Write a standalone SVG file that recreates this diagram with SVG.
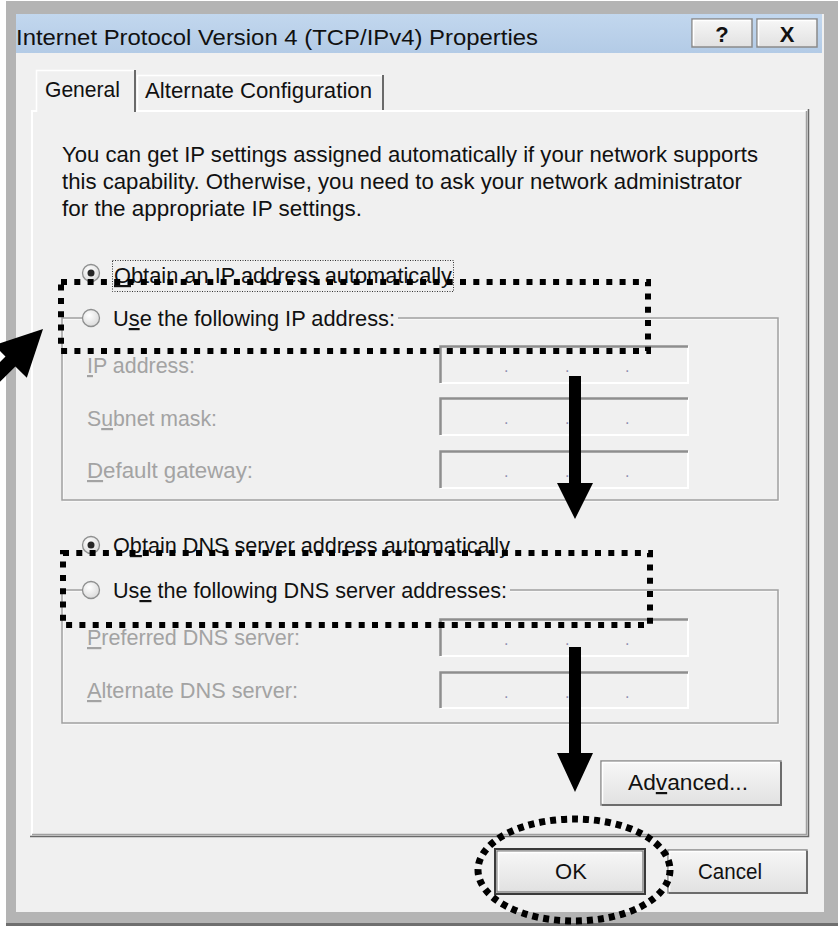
<svg xmlns="http://www.w3.org/2000/svg" width="838" height="927" viewBox="0 0 838 927">
<defs>
  <linearGradient id="tb" x1="0" y1="0" x2="0" y2="1"><stop offset="0" stop-color="#c2d7ee"/><stop offset="1" stop-color="#b3cbe6"/></linearGradient>
  <linearGradient id="btn" x1="0" y1="0" x2="0" y2="1"><stop offset="0" stop-color="#f7f7f7"/><stop offset="1" stop-color="#e1e1e1"/></linearGradient>
  <radialGradient id="rad" cx="0.4" cy="0.35" r="0.75"><stop offset="0" stop-color="#ffffff"/><stop offset="1" stop-color="#d6d6d6"/></radialGradient>
</defs>
<style>
  .t{font-family:"Liberation Sans",Arial,sans-serif;font-size:22px;fill:#111}
  .g{fill:#a3a3a3}
  .u{text-decoration:underline}
  .gb{fill:none;stroke:#a0a0a0;stroke-width:1.5}
  .gbw{fill:none;stroke:#ffffff;stroke-width:1}
  .fld{fill:#f0f0f0}
  .fdk{fill:none;stroke:#8e8e8e;stroke-width:2.5}
  .flt{fill:none;stroke:#ffffff;stroke-width:2}
  .ipdot{font-family:"Liberation Sans",Arial,sans-serif;font-size:16px;fill:#8f8fb0}
  .radio{fill:url(#rad);stroke:#8e8f8f;stroke-width:1.3}
  .rdot{fill:#262626}
  .btn{fill:url(#btn);stroke:#8a8a8a;stroke-width:1.5}
  .hl{fill:none;stroke:#ffffff;stroke-width:1.5}
  .sh{fill:none;stroke:#6c6c6c;stroke-width:2}
  .dots{fill:none;stroke:#000;stroke-width:6;stroke-dasharray:6 7.3}
  .focus{fill:none;stroke:#333;stroke-width:1;stroke-dasharray:1 1.5}
  .arr{fill:#000}
</style>

<g id="window">
  <rect x="6" y="1" width="832" height="925" fill="#b4b4b4"/>
  <rect x="6" y="923" width="832" height="3" fill="#6f6f6f"/>
  <rect x="16" y="14" width="808" height="898" fill="#f0f0f0"/>
</g>

<g id="titlebar">
  <rect x="16" y="14" width="806" height="39" fill="url(#tb)"/>
  <text class="t" x="16" y="45" font-size="24" textLength="522" lengthAdjust="spacingAndGlyphs">Internet Protocol Version 4 (TCP/IPv4) Properties</text>
  <g id="help-button">
    <rect class="btn" x="692" y="19" width="60" height="28"/>
    <path class="hl" d="M693.5,45.5 V20.5 H750.5"/>
    <text class="t" x="722" y="42" font-size="21" font-weight="bold" text-anchor="middle">?</text>
  </g>
  <g id="close-button">
    <rect class="btn" x="757" y="19" width="60" height="28"/>
    <path class="hl" d="M758.5,45.5 V20.5 H815.5"/>
    <text class="t" x="787" y="42" font-size="21" font-weight="bold" text-anchor="middle">X</text>
  </g>
</g>

<g id="panel">
  <rect x="31" y="110" width="777" height="726" fill="#f0f0f0"/>
  <path d="M32,835 V111 H807" fill="none" stroke="#ffffff" stroke-width="2"/>
  <path d="M806.5,111 V834.5 H32" fill="none" stroke="#a0a0a0" stroke-width="1.5"/>
  <path d="M808.5,109 V836.5 H30" fill="none" stroke="#6a6a6a" stroke-width="1.5"/>
</g>

<g id="tab-alternate">
  <path d="M137,110 V76 H383 V110 Z" fill="#f0f0f0"/>
  <path d="M137.5,110 V75.5 H382" fill="none" stroke="#ffffff" stroke-width="1.5"/>
  <path d="M383,75 V110" fill="none" stroke="#6a6a6a" stroke-width="2"/>
  <text class="t" x="145" y="98" textLength="227" lengthAdjust="spacingAndGlyphs">Alternate Configuration</text>
</g>
<g id="tab-general">
  <path d="M36,113 V70 H135 V113 Z" fill="#f0f0f0"/>
  <path d="M36.5,112 V70.5 H134" fill="none" stroke="#ffffff" stroke-width="1.5"/>
  <path d="M135,70 V112" fill="none" stroke="#6a6a6a" stroke-width="2"/>
  <text class="t" x="45" y="97" textLength="75" lengthAdjust="spacingAndGlyphs">General</text>
</g>

<g id="intro-text">
  <text class="t" x="62" y="162" textLength="696" lengthAdjust="spacingAndGlyphs">You can get IP settings assigned automatically if your network supports</text>
  <text class="t" x="62" y="189" textLength="680" lengthAdjust="spacingAndGlyphs">this capability. Otherwise, you need to ask your network administrator</text>
  <text class="t" x="62" y="216" textLength="300" lengthAdjust="spacingAndGlyphs">for the appropriate IP settings.</text>
</g>

<g id="ip-section">
  <path class="gbw" d="M84,319 H63 V501 H779 V319 H398"/>
  <path class="gb" d="M84,318 H62 V500 H778 V318 H398"/>
  <g id="radio-ip-auto">
    <circle class="radio" cx="91" cy="273" r="8.5"/>
    <circle class="rdot" cx="91" cy="273" r="3.5"/>
    <rect class="focus" x="112.5" y="260.5" width="341" height="31"/>
    <text class="t" x="114" y="283" textLength="338" lengthAdjust="spacingAndGlyphs"><tspan class="u">O</tspan>btain an IP address automatically</text>
  </g>
  <g id="radio-ip-manual">
    <circle class="radio" cx="91" cy="318" r="8.5"/>
    <text class="t" x="113" y="326" textLength="282" lengthAdjust="spacingAndGlyphs">U<tspan class="u">s</tspan>e the following IP address:</text>
  </g>
  <g id="ip-address">
    <text class="t g" x="87" y="373" textLength="108" lengthAdjust="spacingAndGlyphs"><tspan class="u">I</tspan>P address:</text>
    <rect class="fld" x="439" y="345" width="249" height="38"/>
    <path class="flt" d="M440,383 H688 V346"/>
    <path class="fdk" d="M440.5,383 V346.5 H688"/>
    <text class="ipdot" x="504 565 625" y="372">...</text>
  </g>
  <g id="subnet-mask">
    <text class="t g" x="87" y="426" textLength="130" lengthAdjust="spacingAndGlyphs">S<tspan class="u">u</tspan>bnet mask:</text>
    <rect class="fld" x="439" y="397" width="249" height="38"/>
    <path class="flt" d="M440,435 H688 V398"/>
    <path class="fdk" d="M440.5,435 V398.5 H688"/>
    <text class="ipdot" x="504 565 625" y="424">...</text>
  </g>
  <g id="default-gateway">
    <text class="t g" x="87" y="478" textLength="166" lengthAdjust="spacingAndGlyphs"><tspan class="u">D</tspan>efault gateway:</text>
    <rect class="fld" x="439" y="450" width="249" height="38"/>
    <path class="flt" d="M440,488 H688 V451"/>
    <path class="fdk" d="M440.5,488 V451.5 H688"/>
    <text class="ipdot" x="504 565 625" y="477">...</text>
  </g>
</g>

<g id="dns-section">
  <path class="gbw" d="M84,591 H63 V724 H779 V591 H510"/>
  <path class="gb" d="M84,590 H62 V723 H778 V590 H510"/>
  <g id="radio-dns-auto">
    <circle class="radio" cx="91" cy="545" r="8.5"/>
    <circle class="rdot" cx="91" cy="545" r="3.5"/>
    <text class="t" x="113" y="553" textLength="397" lengthAdjust="spacingAndGlyphs">O<tspan class="u">b</tspan>tain DNS server address automatically</text>
  </g>
  <g id="radio-dns-manual">
    <circle class="radio" cx="91" cy="590" r="8.5"/>
    <text class="t" x="113" y="598" textLength="394" lengthAdjust="spacingAndGlyphs">Us<tspan class="u">e</tspan> the following DNS server addresses:</text>
  </g>
  <g id="preferred-dns">
    <text class="t g" x="87" y="645" textLength="213" lengthAdjust="spacingAndGlyphs"><tspan class="u">P</tspan>referred DNS server:</text>
    <rect class="fld" x="439" y="618" width="249" height="38"/>
    <path class="flt" d="M440,656 H688 V619"/>
    <path class="fdk" d="M440.5,656 V619.5 H688"/>
    <text class="ipdot" x="504 565 625" y="645">...</text>
  </g>
  <g id="alternate-dns">
    <text class="t g" x="87" y="698" textLength="211" lengthAdjust="spacingAndGlyphs"><tspan class="u">A</tspan>lternate DNS server:</text>
    <rect class="fld" x="439" y="671" width="249" height="37"/>
    <path class="flt" d="M440,708 H688 V672"/>
    <path class="fdk" d="M440.5,708 V672.5 H688"/>
    <text class="ipdot" x="504 565 625" y="698">...</text>
  </g>
</g>

<g id="advanced-button">
  <rect class="btn" x="601" y="761" width="180" height="44"/>
  <path class="hl" d="M602.5,803.5 V762.5 H779.5"/>
  <path class="sh" d="M602,805 H781 V762"/>
  <text class="t" x="628" y="790" textLength="120" lengthAdjust="spacingAndGlyphs">Ad<tspan class="u">v</tspan>anced...</text>
</g>
<g id="ok-button">
  <rect x="495" y="849" width="150" height="45" fill="none" stroke="#3a3a3a" stroke-width="2"/>
  <rect class="btn" x="497" y="851" width="146" height="41"/>
  <path class="hl" d="M498.5,890.5 V852.5 H641.5"/>
  <text class="t" x="571" y="879" text-anchor="middle">OK</text>
</g>
<g id="cancel-button">
  <rect class="btn" x="668" y="850" width="139" height="43"/>
  <path class="hl" d="M669.5,891.5 V851.5 H805.5"/>
  <path class="sh" d="M669,893 H807 V851"/>
  <text class="t" x="698" y="879" textLength="64" lengthAdjust="spacingAndGlyphs">Cancel</text>
</g>

<g id="connectors">
  <rect id="highlight-ip" class="dots" x="61" y="282" width="587" height="69"/>
  <rect id="highlight-dns" class="dots" x="63" y="553" width="587" height="72"/>
  <ellipse id="highlight-ok" cx="574" cy="870" rx="96" ry="51" fill="none" stroke="#000" stroke-width="7" stroke-dasharray="6 5"/>
  <polygon id="arrow-left" class="arr" points="43,329 -5.8,345.2 5.5,356.6 -36.9,399 -27,408.8 15.4,366.4 26.8,377.8"/>
  <polygon id="arrow-down-1" class="arr" points="569,376 581,376 581,483 593,483 575,519 557,483 569,483"/>
  <polygon id="arrow-down-2" class="arr" points="569,647 581,647 581,753 593,753 575,792 557,753 569,753"/>
</g>
</svg>
